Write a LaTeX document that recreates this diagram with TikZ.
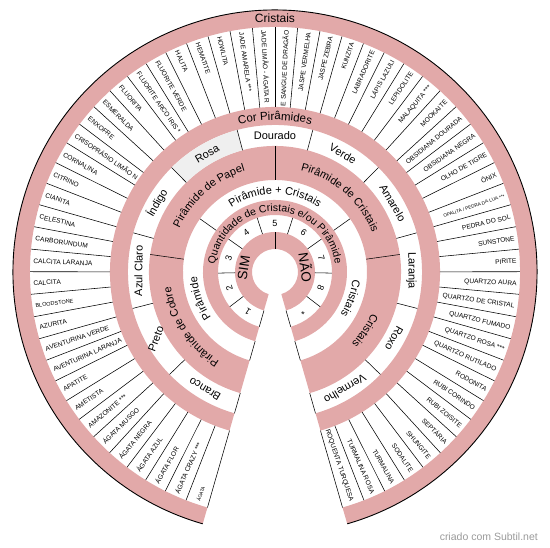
\documentclass[tikz,border=0pt]{standalone}
\usepackage{fontspec}
\setmainfont{Liberation Sans}
\usetikzlibrary{decorations.text}
\definecolor{ringpink}{HTML}{E2A9A9}
\definecolor{rosagray}{HTML}{EFEFEF}
\definecolor{wmgray}{HTML}{9A9A9A}
\newcommand\fs[1]{\fontsize{#1}{#1}\selectfont}
\newcommand\annsec[5]{% style, a1, a2, rin, rout
  \path[#1] (#2:#4) -- (#2:#5) arc[start angle=#2,end angle=#3,radius=#5] -- (#3:#4) arc[start angle=#3,end angle=#2,radius=#4] -- cycle;}
\begin{document}
\begin{tikzpicture}[x=1pt,y=1pt,
  pinkring/.style={fill=ringpink},
  divider/.style={draw=black,line width=0.55pt},
  crystal/.style={font=\fs{6.6},inner sep=0pt},
  colourlabel/.style={font=\fs{11},inner sep=0pt},
  numlabel/.style={font=\fs{9},inner sep=0pt},
  bigtitle/.style={font=\fs{12},inner sep=0pt},
  simnao/.style={font=\fs{13.5},inner sep=0pt},
  curvetext/.style={decorate,decoration={text along path,text align=center,text={#1}}}
]
\useasboundingbox (-275,-276) rectangle (275,272);
% pink rings
\foreach \ri/\ro in {245/262,147/165,92/126,57/72,23/40}{\annsec{pinkring}{254}{-74}{\ri}{\ro}}
% Rosa cell
\annsec{fill=rosagray}{134.727}{104.909}{126}{147}
% outer arc
\draw[line width=0.9pt] (254:262) arc[start angle=254,end angle=-74,radius=262];
% crystal dividers
\foreach \k in {0,...,62}{\pgfmathsetmacro\a{254-\k*5.290323}\draw[divider] (\a:165) -- (\a:245);}
% colour dividers
\foreach \k in {0,...,11}{\pgfmathsetmacro\a{254-\k*29.818182}\draw[divider] (\a:126) -- (\a:147);}
% pyramid dividers
\foreach \a in {172,90,8}{\draw[divider] (\a:92) -- (\a:126);}
% P+C dividers
\foreach \k in {0,...,3}{\pgfmathsetmacro\a{254-\k*109.333333}\draw[divider] (\a:72) -- (\a:92);}
% number dividers
\foreach \k in {0,...,9}{\pgfmathsetmacro\a{254-\k*36.444444}\draw[divider] (\a:40) -- (\a:57);}
% SIM/NAO divider
\draw[divider] (90:23) -- (90:40);
% crystal labels
\foreach \t [count=\k] in {{\fs{4.8}ÁGATA},ÁGATA CRAZY ***,ÁGATA FLOR,ÁGATA AZUL,ÁGATA NEGRA,ÁGATA MUSGO,AMAZONITE ***,AMETISTA,APATITE,AVENTURINA LARANJA,AVENTURINA VERDE,AZURITA,{\fs{5.5}BLOODSTONE},CALCITA,CALCITA LARANJA,CARBORUNDUM,CELESTINA,CIANITA,CITRINO,CORNALINA,CRISOPRÁSIO LIMÃO N,ENXOFRE,ESMERALDA,FLUORITA,FLUORITE ARCO IRIS *,FLUORITE VERDE,HALITA,HEMATITE,HOWLITA,JADE AMARELA ***,JADE LIMÃO - ÁGATA R,E SANGUE DE DRAGÃO,JASPE VERMELHA,JASPE ZEBRA,KUNZITA,LABRADORITE,LÁPIS LAZULI,LEPIDOLITE,MALAQUITA ***,MOOKAITE,OBSIDIANA DOURADA,OBSIDIANA NEGRA,OLHO DE TIGRE,ÔNIX,{\fs{4.7}OPALITA / PEDRA DA LUA ***},PEDRA DO SOL,SUNSTONE,PIRITE,QUARTZO AURA,QUARTZO DE CRISTAL,QUARTZO FUMADO,QUARTZO ROSA ***,QUARTZO RUTILADO,RODONITA,RUBI CORINDO,RUBI ZOISITE,SEPTÁRIA,SHUNGITE,SODALITE,TURMALINA,TURMALINA ROSA,ROQUENTA TURQUESA}{
  \pgfmathsetmacro\a{254-(\k-0.5)*5.290323}
  \pgfmathsetmacro\b{\a+180}
  \ifdim\a pt>90pt
    \node[crystal,anchor=mid west,rotate=\b] (cr\k) at (\a:242) {\t};
  \else
    \node[crystal,anchor=mid east,rotate=\a] (cr\k) at (\a:242) {\t};
  \fi
}
% colour labels
\foreach \t/\r [count=\k] in {Branco/149.1,Preto/70,Azul Claro/89.5,Índigo/59.6,Rosa/29.8,Dourado/0,Verde/-29.8,Amarelo/-59.6,Laranja/-89.5,Roxo/-119.3,Vermelho/-149.1}{
  \pgfmathsetmacro\a{254-(\k-0.5)*29.818182}
  \node[colourlabel,rotate=\r] (co\k) at (\a:136.5) {\t};
}
% numbers
\foreach \t [count=\k] in {1,2,3,4,5,6,7,8,*}{
  \pgfmathsetmacro\a{254-(\k-0.5)*36.444444}
  \pgfmathsetmacro\b{\a-90}
  \node[numlabel,rotate=\b] (nu\k) at (\a:48.5) {\t};
}
% SIM / NAO
\node[simnao,rotate=82] (sim) at (172:31.5) {SIM};
\node[simnao,rotate=-82] (nao) at (8:31.5) {NÃO};
% titles
\node[bigtitle] (cristaistitle) at (90:253.5) {Cristais};
\path[curvetext={|\fs{11.5}|Cor Pirâmides}] (125:152) arc[start angle=125,end angle=55,radius=152];
% pyramid ring
\path[curvetext={|\fs{11}|Pirâmide de Cobre}] (254:105) arc[start angle=254,end angle=172,radius=105];
\path[curvetext={|\fs{11}|Pirâmide de Papel}] (172:105) arc[start angle=172,end angle=90,radius=105];
\path[curvetext={|\fs{11}|Pirâmide de Cristais}] (90:105) arc[start angle=90,end angle=8,radius=105];
\path[curvetext={|\fs{11}|Cristais}] (8:105) arc[start angle=8,end angle=-74,radius=105];
% P+C ring
\path[curvetext={|\fs{11}|Pirâmide}] (254:78) arc[start angle=254,end angle=144.667,radius=78];
\path[curvetext={|\fs{11}|Pirâmide + Cristais}] (144.667:78) arc[start angle=144.667,end angle=35.333,radius=78];
\path[curvetext={|\fs{11}|Cristais}] (35.333:78) arc[start angle=35.333,end angle=-74,radius=78];
% Quantidade ring
\path[curvetext={|\fs{10.5}|Quantidade de Cristais e/ou Pirâmide}] (180:60.5) arc[start angle=180,end angle=0,radius=60.5];
% watermark
\node[anchor=east,text=wmgray,font=\fs{10.5},inner sep=0pt] (wm) at (263,-265) {criado com Subtil.net};
\end{tikzpicture}
\end{document}
